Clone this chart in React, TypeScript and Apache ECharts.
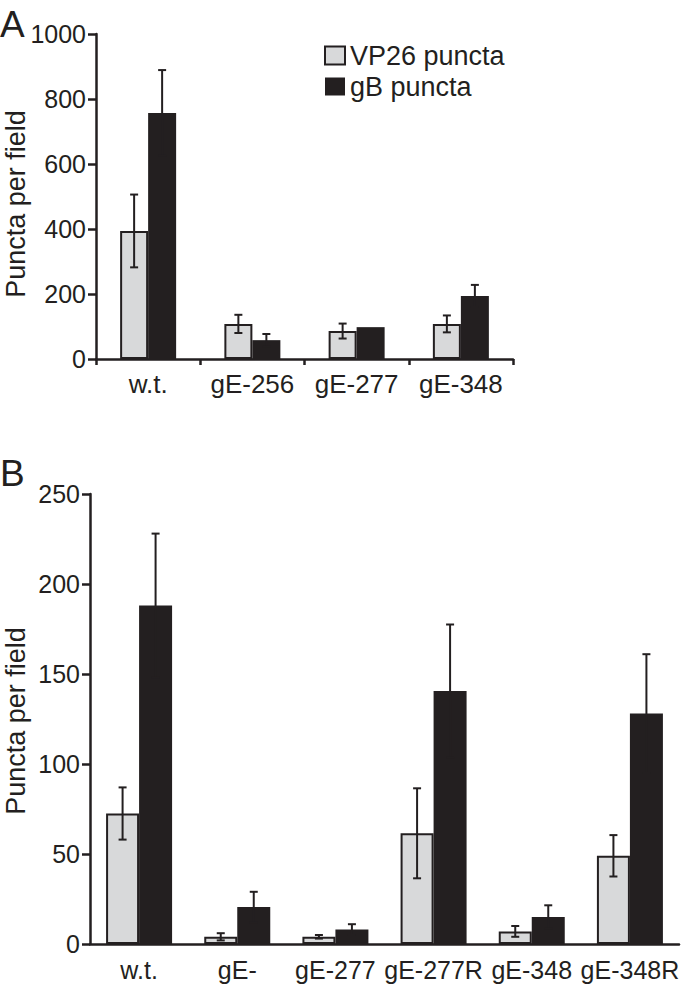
import React, { useEffect, useRef } from "react";
import * as echarts from "echarts";

const catsA = ["w.t.", "gE-256", "gE-277", "gE-348"];
const vp26A = [394, 108, 86, 108];
const vp26ErrA = [112, 28, 23, 26];
const gbA = [757, 58, 98, 194];
const gbErrA = [132, 19, 0, 34];

const catsB = ["w.t.", "gE-", "gE-277", "gE-277R", "gE-348", "gE-348R"];
const vp26B = [72.5, 4, 4, 61.5, 7, 49];
const vp26ErrB = [14.5, 2, 1, 25, 3, 11.5];
const gbB = [188, 20.5, 8, 140.5, 15, 128];
const gbErrB = [40, 8.5, 3, 37, 6.5, 33];

const FONT = "'Liberation Sans', Arial, Helvetica, sans-serif";
const INK = "#231f20";
const GRAY = "#d8d9da";

function errSeries(vals: number[], errs: number[], axis: number, offset: number) {
  return {
    type: "custom",
    xAxisIndex: axis,
    yAxisIndex: axis,
    z: 10,
    silent: true,
    data: vals.map((v, i) => [i, v, errs[i]]),
    renderItem: (params: any, api: any) => {
      const i = api.value(0);
      const v = api.value(1);
      const e = api.value(2);
      if (!e) return null;
      const base = api.coord([i, v]);
      const x = base[0] + offset;
      const yt = api.coord([i, v + e])[1];
      const yb = api.coord([i, Math.max(0, v - e)])[1];
      const st = { stroke: INK, lineWidth: 2 };
      const cw = 4;
      return {
        type: "group",
        children: [
          { type: "line", shape: { x1: x, y1: yt, x2: x, y2: yb }, style: st },
          { type: "line", shape: { x1: x - cw, y1: yt, x2: x + cw, y2: yt }, style: st },
          { type: "line", shape: { x1: x - cw, y1: yb, x2: x + cw, y2: yb }, style: st },
        ],
      };
    },
  };
}

export default function App() {
  const ref = useRef<HTMLDivElement>(null);
  useEffect(() => {
    document.body.style.margin = "0";
    const chart = echarts.init(ref.current!, null, { renderer: "svg" });
    const bwA = 28;
    const bwB = 33;
    const axisLine = { show: true, lineStyle: { color: INK, width: 2.5 } };
    const plain = (v: number) => String(v);
    const option: any = {
      animation: false,
      backgroundColor: "#ffffff",
      textStyle: { fontFamily: FONT, color: INK },
      legend: {
        data: [
          { name: "VP26 puncta", itemStyle: { color: GRAY, borderColor: INK, borderWidth: 2 } },
          { name: "gB puncta", itemStyle: { color: INK } },
        ],
        left: 324,
        top: 42,
        orient: "vertical",
        itemWidth: 20,
        itemHeight: 18,
        itemGap: 4,
        padding: 0,
        icon: "rect",
        textStyle: { fontSize: 27, lineHeight: 24, color: INK, fontFamily: FONT, padding: [0, 0, 0, 0] },
      },
      grid: [
        { left: 96, top: 34, width: 417, height: 325 },
        { left: 90, top: 494, width: 589, height: 450 },
      ],
      xAxis: [
        {
          type: "category",
          gridIndex: 0,
          data: catsA,
          axisLine,
          axisTick: { show: true, length: 6, lineStyle: { color: INK, width: 2.5 } },
          axisLabel: { fontSize: 26, color: INK, margin: 12, fontFamily: FONT, interval: 0 },
        },
        {
          type: "category",
          gridIndex: 1,
          data: catsB,
          axisLine,
          axisTick: { show: false },
          axisLabel: { fontSize: 25, color: INK, margin: 13, fontFamily: FONT, interval: 0 },
        },
      ],
      yAxis: [
        {
          type: "value",
          gridIndex: 0,
          min: 0,
          max: 1000,
          interval: 200,
          axisLine,
          axisTick: { show: true, length: 8, lineStyle: { color: INK, width: 2.5 } },
          splitLine: { show: false },
          axisLabel: { fontSize: 25, color: INK, margin: 10, fontFamily: FONT, formatter: plain },
        },
        {
          type: "value",
          gridIndex: 1,
          min: 0,
          max: 250,
          interval: 50,
          axisLine,
          axisTick: { show: true, length: 8, lineStyle: { color: INK, width: 2.5 } },
          splitLine: { show: false },
          axisLabel: { fontSize: 25, color: INK, margin: 10, fontFamily: FONT, formatter: plain },
        },
      ],
      graphic: [
        { type: "text", left: 0, top: 6, style: { text: "A", fontSize: 37, fill: INK, fontFamily: FONT } },
        { type: "text", left: 0, top: 455, style: { text: "B", fontSize: 37, fill: INK, fontFamily: FONT } },
        {
          type: "text",
          x: 16,
          y: 204,
          rotation: Math.PI / 2,
          style: { text: "Puncta per field", fontSize: 27, fill: INK, fontFamily: FONT, align: "center", verticalAlign: "middle" },
        },
        {
          type: "text",
          x: 16,
          y: 721,
          rotation: Math.PI / 2,
          style: { text: "Puncta per field", fontSize: 27, fill: INK, fontFamily: FONT, align: "center", verticalAlign: "middle" },
        },
      ],
      series: [
        {
          name: "VP26 puncta",
          type: "bar",
          xAxisIndex: 0,
          yAxisIndex: 0,
          data: vp26A,
          barWidth: bwA,
          barGap: "0%",
          itemStyle: { color: GRAY, borderColor: INK, borderWidth: 2 },
        },
        {
          name: "gB puncta",
          type: "bar",
          xAxisIndex: 0,
          yAxisIndex: 0,
          data: gbA,
          barWidth: bwA,
          barGap: "0%",
          itemStyle: { color: INK },
        },
        {
          name: "VP26 puncta",
          type: "bar",
          xAxisIndex: 1,
          yAxisIndex: 1,
          data: vp26B,
          barWidth: bwB,
          barGap: "0%",
          itemStyle: { color: GRAY, borderColor: INK, borderWidth: 2 },
        },
        {
          name: "gB puncta",
          type: "bar",
          xAxisIndex: 1,
          yAxisIndex: 1,
          data: gbB,
          barWidth: bwB,
          barGap: "0%",
          itemStyle: { color: INK },
        },
        errSeries(vp26A, vp26ErrA, 0, -bwA / 2),
        errSeries(gbA, gbErrA, 0, bwA / 2),
        errSeries(vp26B, vp26ErrB, 1, -bwB / 2),
        errSeries(gbB, gbErrB, 1, bwB / 2),
      ],
    };
    chart.setOption(option);
    return () => chart.dispose();
  }, []);
  return <div ref={ref} style={{ position: "absolute", left: 0, top: 0, width: 700, height: 988 }} />;
}
